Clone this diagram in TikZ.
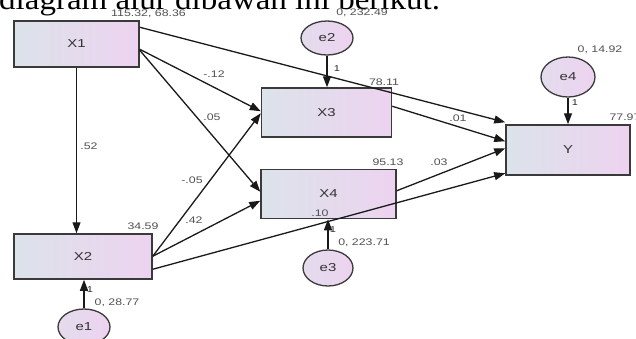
\documentclass[tikz,border=0pt]{standalone}
\usepackage{fontspec}
\setmainfont{Liberation Serif}[FakeStretch=1.1]
\newfontfamily\lblfont{Liberation Sans}[FakeStretch=1.3]
\usetikzlibrary{arrows.meta,calc,shapes.geometric}
\definecolor{boxline}{HTML}{3A3A3A}
\definecolor{shadeL}{HTML}{DCE3EA}
\definecolor{shadeR}{HTML}{EDD3F0}
\definecolor{numgray}{HTML}{505050}
\tikzset{
  var/.style={draw=boxline, line width=1.5pt, left color=shadeL, right color=shadeR,
    inner sep=0pt, font=\lblfont\fontsize{11.5}{12}\selectfont, text=black!80},
  err/.style={ellipse, draw=boxline, line width=1.3pt, left color=shadeL!55!shadeR, right color=shadeR,
    inner sep=0pt, minimum width=52pt, font=\lblfont\fontsize{11.5}{12}\selectfont, text=black!80},
  est/.style={font=\lblfont\fontsize{9.5}{10}\selectfont, text=numgray, inner sep=0pt},
  one/.style={font=\lblfont\fontsize{8.5}{9}\selectfont, text=black!85, inner sep=0pt},
  path/.style={line width=1.3pt, black!90, -{Triangle[length=11pt,width=8pt]}},
}
\begin{document}
\begin{tikzpicture}[x=1pt, y=-1pt]
\useasboundingbox (0,0) rectangle (636,338);
\clip (0,0) rectangle (636,338);

% heading line of the surrounding text
\node[anchor=base west, inner sep=0pt, font=\fontsize{30}{33}\selectfont] (head) at (-1,9)
  {diagram alur dibawah ini berikut.};

% observed variables
\node[var, minimum width=125pt, minimum height=46pt] (X1) at (76.5,44) {X1};
\node[var, minimum width=138pt, minimum height=45pt] (X2) at (83,256.5) {X2};
\node[var, minimum width=130pt, minimum height=49pt] (X3) at (326.5,112.5) {X3};
\node[var, minimum width=135pt, minimum height=49pt] (X4) at (328.5,194) {X4};
\node[var, minimum width=124pt, minimum height=50pt] (Y)  at (568,150) {Y};

% error terms
\node[err, minimum width=52pt, minimum height=34pt] (e2) at (327,38) {e2};
\node[err, minimum width=54pt, minimum height=40pt] (e4) at (568,77) {e4};
\node[err, minimum width=50pt, minimum height=36pt] (e3) at (328,268) {e3};
\node[err, minimum width=52pt, minimum height=36pt] (e1) at (84,327) {e1};

% structural paths
\draw[path] (X1.south) -- (X1.south |- X2.north);
\draw[path] ($(X1.north east)+(0,7)$) -- ($(Y.north west)+(0,-2)$);
\draw[path] ($(X1.north east)+(0,29)$) -- ($(X3.north west)+(0,24)$);
\draw[path] ($(X1.north east)+(0,30)$) -- ($(X4.north west)+(0,23)$);
\draw[path] ($(X2.north east)+(0,23)$) -- ($(X3.north west)+(0,26)$);
\draw[path] ($(X2.north east)+(0,23)$) -- ($(X4.north west)+(0,32)$);
\draw[path] ($(X2.north east)+(0,36)$) -- ($(Y.north west)+(0,49)$);
\draw[path] ($(X3.north east)+(0,19)$) -- ($(Y.north west)+(0,17)$);
\draw[path] ($(X4.north east)+(0,22)$) -- ($(Y.north west)+(0,24)$);

% error paths
\draw[path] (e2.south) -- (e2.south |- X3.north);
\draw[path] (e4.south) -- (e4.south |- Y.north);
\draw[path] (e3.north) -- (e3.north |- X4.south);
\draw[path] (e1.north) -- (e1.north |- X2.south);

% variances and intercepts
\node[est] (vX1) at (148.5,14) {115.32, 68.36};
\node[est] (vX2) at (143,226) {34.59};
\node[est] (vX3) at (384,82) {78.11};
\node[est] (vX4) at (388,162) {95.13};
\node[est] (vY)  at (625,117) {77.97};
\node[est] (ve2) at (362,13) {0, 232.49};
\node[est] (ve4) at (600,50) {0, 14.92};
\node[est] (ve3) at (364,243) {0, 223.71};
\node[est] (ve1) at (117,303) {0, 28.77};
\node[est] (iX4) at (320,213) {.10};

% path coefficients
\node[est] (c12) at (89,146) {.52};
\node[est] (c13) at (214,74) {-.12};
\node[est] (c14) at (212,117) {.05};
\node[est] (c23) at (192,180) {-.05};
\node[est] (c24) at (194,220) {.42};
\node[est] (c3y) at (458,118) {.01};
\node[est] (c4y) at (439,162) {.03};

% fixed loadings
\node[one] (f2) at (337,69) {1};
\node[one] (f4) at (575,103) {1};
\node[one] (f3) at (333,230) {1};
\node[one] (f1) at (90,290) {1};
\end{tikzpicture}
\end{document}
